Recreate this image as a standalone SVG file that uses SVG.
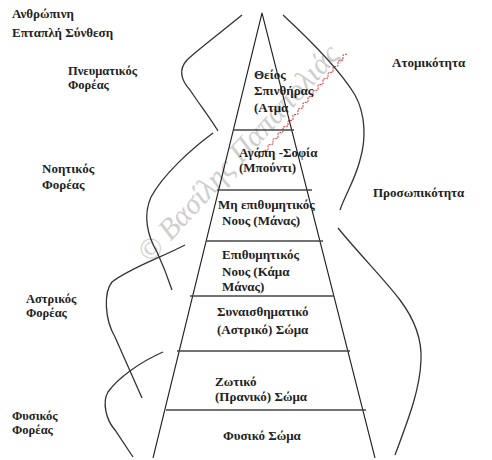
<svg xmlns="http://www.w3.org/2000/svg" width="492" height="460" viewBox="0 0 492 460">
<style>
.t{font-family:"Liberation Serif","Times New Roman",serif;font-weight:bold;font-size:13px;fill:#222}
.s{font-size:12.5px}
.side{stroke:#222;stroke-width:1.1;fill:none}
.div{stroke:#444;stroke-width:1.6;fill:none}
.curve{stroke:#333;stroke-width:1.3;fill:none}
.wm{font-family:"Liberation Serif","Times New Roman",serif;font-style:italic;font-size:30px;fill:#cfcfcf}
</style>
<rect width="492" height="460" fill="#fff"/>
<g id="watermark">
<text class="wm" transform="translate(150,264) rotate(-47.5)">© Βασίλης Παπαπολιάς</text>
<path d="M258,158 l5,-2 l0,-5 l5,-1 l0,-5 l5,-1 l0,-5 l5,-1 l0,-5 l5,-1 l0,-5 l5,-1 l0,-5 l5,-1 l0,-5 l5,-1 l0,-5 l5,-1 l0,-5 l5,-1 l0,-5 l5,-1 l0,-5 l5,-1 l0,-5 l5,-1 l0,-5 l5,-1 l0,-5 l5,-1 l0,-5 l5,-1 l0,-5 l5,-1 l0,-5 l4,-1" fill="none" stroke="#d33" stroke-width="1" stroke-dasharray="2,1"/>
</g>
<g id="connectors">
<path class="curve" d="M242,15 C220,33 195,52 187,60 C178,70 181,80 190,90 C200,105 210,118 218,131"/>
<path class="curve" d="M213,133 C190,150 163,175 151,197 C143,215 147,235 157,252 C163,265 168,278 172,290"/>
<path class="curve" d="M185,245 C160,258 130,268 112,282 C104,292 104,318 115,337 L142,398"/>
<path class="curve" d="M163,352 C140,362 118,378 108,392 C102,402 106,420 115,430 L133,457"/>
<path class="curve" d="M283,15 C310,40 340,70 355,95 C366,115 366,140 360,160 C355,180 345,195 340,210"/>
<path class="curve" d="M338,228 C360,255 385,280 400,300 C415,320 422,340 421,360 C420,390 408,420 395,455"/>
</g>
<g id="pyramid">
<path class="side" d="M153,458 L262,13 L375,458"/>
<line class="div" x1="233" y1="130" x2="294" y2="130"/>
<line class="div" x1="217" y1="190" x2="312" y2="190"/>
<line class="div" x1="206" y1="241" x2="323" y2="241"/>
<line class="div" x1="190" y1="296" x2="334" y2="296"/>
<line class="div" x1="177" y1="351" x2="350" y2="351"/>
<line class="div" x1="166" y1="410" x2="366" y2="410"/>
</g>
<g id="atma"><text class="t" x="254" y="79">Θείος</text><text class="t" x="254" y="95">Σπινθήρας</text><text class="t" x="254" y="112">(Ατμα</text></g>
<g id="buddhi"><text class="t" x="239" y="157">Αγάπη -Σοφία</text><text class="t" x="239" y="172">(Μπούντι)</text></g>
<g id="manas"><text class="t" x="218" y="209">Μη επιθυμητικός</text><text class="t" x="222" y="225">Νους (Μάνας)</text></g>
<g id="kamamanas"><text class="t" x="222" y="259">Επιθυμητικός</text><text class="t" x="222" y="276">Νους (Κάμα</text><text class="t" x="222" y="291">Μάνας)</text></g>
<g id="astral"><text class="t" x="217" y="316">Συναισθηματικό</text><text class="t" x="217" y="334">(Αστρικό) Σώμα</text></g>
<g id="pranic"><text class="t" x="215" y="386">Ζωτικό</text><text class="t" x="215" y="401">(Πρανικό) Σώμα</text></g>
<g id="physical"><text class="t" x="223" y="440">Φυσικό Σώμα</text></g>
<g id="title"><text class="t" x="12" y="18">Ανθρώπινη</text><text class="t" x="12" y="37">Επταπλή Σύνθεση</text></g>
<g id="spiritual"><text class="t s" x="68" y="75">Πνευματικός</text><text class="t s" x="68" y="89">Φορέας</text></g>
<g id="mental"><text class="t" x="42" y="173">Νοητικός</text><text class="t" x="42" y="189">Φορέας</text></g>
<g id="astralvehicle"><text class="t s" x="26" y="303">Αστρικός</text><text class="t s" x="26" y="317">Φορέας</text></g>
<g id="physicalvehicle"><text class="t s" x="12" y="420">Φυσικός</text><text class="t s" x="12" y="434">Φορέας</text></g>
<g id="individuality"><text class="t" x="392" y="67">Ατομικότητα</text></g>
<g id="personality"><text class="t" x="373" y="197">Προσωπικότητα</text></g>
</svg>
